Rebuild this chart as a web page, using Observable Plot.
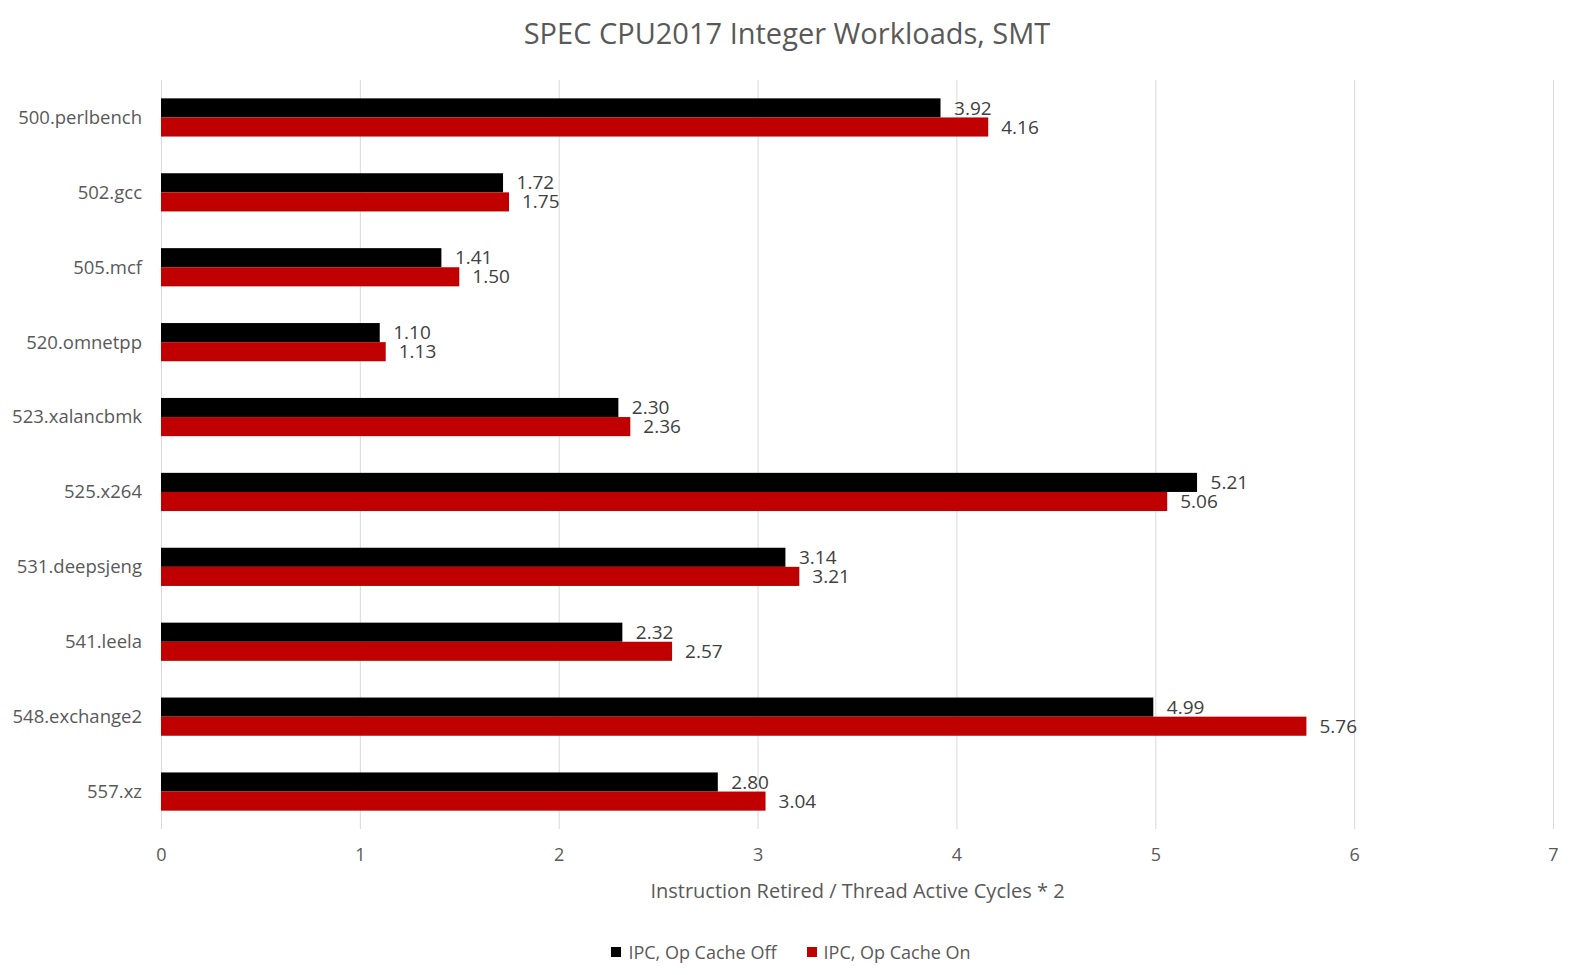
<!DOCTYPE html>
<html>
<head>
<meta charset="utf-8">
<script src="https://cdn.jsdelivr.net/npm/d3@7"></script>
<script src="https://cdn.jsdelivr.net/npm/@observablehq/plot@0.6"></script>
<style>
  html, body { margin: 0; padding: 0; background: #fff; }
  body { width: 1574px; height: 975px; overflow: hidden; font-family: "Open Sans", sans-serif; }
  #title { height: 66px; line-height: 66px; text-align: center; font-size: 29px; color: #595959; }
  #chart svg { display: block; }
  #legend { display: flex; justify-content: center; gap: 30px; font-size: 18px; color: #595959; margin-top: 24px; margin-left: 8px; }
  #legend .item { display: flex; align-items: center; gap: 7px; }
  #legend .sw { width: 10px; height: 10px; display: inline-block; }
</style>
</head>
<body>
<div id="title">SPEC CPU2017 Integer Workloads, SMT</div>
<div id="chart"></div>
<div id="legend"></div>
<script>
const categories = ["500.perlbench","502.gcc","505.mcf","520.omnetpp","523.xalancbmk","525.x264","531.deepsjeng","541.leela","548.exchange2","557.xz"];
const offValues = [3.92,1.72,1.41,1.10,2.30,5.21,3.14,2.32,4.99,2.80];
const onValues  = [4.16,1.75,1.50,1.13,2.36,5.06,3.21,2.57,5.76,3.04];
const seriesNames = ["IPC, Op Cache Off","IPC, Op Cache On"];
const seriesColors = ["#000000","#c00000"];
const xTicks = [0,1,2,3,4,5,6,7];
const axisTitle = "Instruction Retired / Thread Active Cycles * 2";

const offRows = categories.map((c,i) => ({cat:c, series:seriesNames[0], value:offValues[i]}));
const onRows  = categories.map((c,i) => ({cat:c, series:seriesNames[1], value:onValues[i]}));

const chart = Plot.plot({
  width: 1574,
  height: 850,
  marginLeft: 161,
  marginRight: 21,
  marginTop: 14,
  marginBottom: 87,
  style: {fontFamily: "'Open Sans', sans-serif", color: "#595959", background: "#fff"},
  x: {domain: [0,7]},
  y: {domain: categories, paddingInner: 0.49, paddingOuter: 0.245, align: 0.5, round: false},
  marks: [
    Plot.gridX(xTicks, {stroke: "#d9d9d9", strokeOpacity: 1, strokeWidth: 1}),
    Plot.barX(offRows, {x: "value", y: "cat", fill: seriesColors[0], insetBottom: 19.1}),
    Plot.barX(onRows, {x: "value", y: "cat", fill: seriesColors[1], insetTop: 19.1}),
    Plot.text(offRows, {x: "value", y: "cat", text: d => d.value.toFixed(2), dx: 13, dy: -9.5, textAnchor: "start", fill: "#404040", fontSize: 19}),
    Plot.text(onRows, {x: "value", y: "cat", text: d => d.value.toFixed(2), dx: 12.5, dy: 9.5, textAnchor: "start", fill: "#404040", fontSize: 19}),
    Plot.axisY({tickSize: 0, tickPadding: 19.5, fontSize: 18.5, label: null}),
    Plot.axisX(xTicks, {tickSize: 0, tickPadding: 19, fontSize: 18, label: null, tickFormat: d => String(d)}),
    Plot.text([axisTitle], {frameAnchor: "bottom", dy: 62.5, lineAnchor: "middle", fontSize: 20, fill: "#595959"})
  ]
});
document.getElementById("chart").appendChild(chart);

const legend = document.getElementById("legend");
seriesNames.forEach((n,i) => {
  const item = document.createElement("span");
  item.className = "item";
  const sw = document.createElement("span");
  sw.className = "sw";
  sw.style.background = seriesColors[i];
  const t = document.createElement("span");
  t.textContent = n;
  item.appendChild(sw); item.appendChild(t);
  legend.appendChild(item);
});
</script>
</body>
</html>
